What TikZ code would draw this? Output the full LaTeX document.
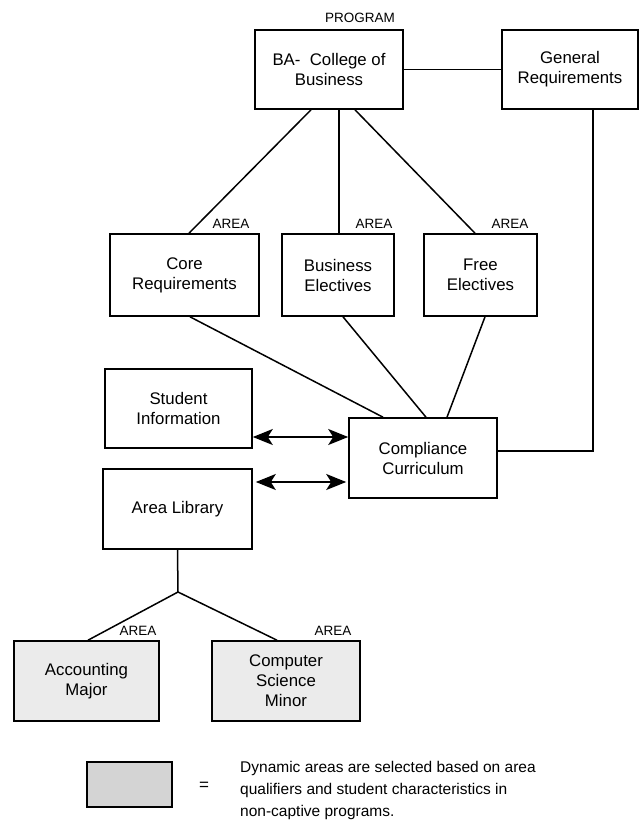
\documentclass[tikz,border=0pt]{standalone}
\usepackage{fontspec}
\setmainfont{Liberation Sans}
\usetikzlibrary{calc,arrows.meta}
\begin{document}
\begin{tikzpicture}[x=1pt,y=-1pt,
  >={Stealth[length=20pt,width=16pt,inset=5pt]},
  every node/.style={inner sep=0pt},
  box/.style={draw=black,line width=1.6pt,fill=white,align=center,
    font=\fontsize{16.8}{20}\selectfont},
  dynbox/.style={box,fill=black!8},
  tag/.style={font=\fontsize{13.5}{15}\selectfont},
  link/.style={draw=black,line width=1.5pt},
  twoway/.style={link,<->}
]
\useasboundingbox[fill=white] (0,0) rectangle (639,825);

% program level
\node[box,minimum width=148,minimum height=79] (ba) at (329,69.5) {BA-\ \ College of\\Business};
\node[box,minimum width=136,minimum height=79] (gen) at (570,69.5) {General\\Requirements};
\node[tag] (prog) at (360,18) {PROGRAM};

% areas
\node[box,minimum width=149,minimum height=82] (core) at (184.5,275) {Core\\Requirements};
\node[box,minimum width=112,minimum height=82] (bus) at (338,275) {Business\\Electives};
\node[box,minimum width=113,minimum height=82] (free) at (480.5,275) {Free\\Electives};
\node[tag] (acore) at (231,224) {AREA};
\node[tag] (abus) at (374,224) {AREA};
\node[tag] (afree) at (510,224) {AREA};

% student data, compliance and library
\node[box,minimum width=147,minimum height=79] (stu) at (178.5,408.5) {Student\\Information};
\node[box,minimum width=148,minimum height=80] (comp) at (423,458) {Compliance\\Curriculum};
\node[box,minimum width=149,minimum height=80] (lib) at (177.5,509) {Area Library};

% dynamic areas
\node[dynbox,minimum width=145,minimum height=80] (acc) at (86.5,681) {Accounting\\Major};
\node[dynbox,minimum width=148,minimum height=80] (cs) at (286,681) {Computer\\Science\\Minor};
\node[tag] (aacc) at (138,631) {AREA};
\node[tag] (acs) at (333,631) {AREA};

% legend
\node[draw=black,line width=1.6pt,fill=black!17,minimum width=85,minimum height=45] (key) at (129.5,784.5) {};
\node[font=\fontsize{17}{20}\selectfont] (eq) at (204,786) {=};
\node[anchor=north west,align=left,font=\fontsize{15.5}{22}\selectfont] (note) at (240,761)
  {Dynamic areas are selected based on area\\qualifiers and student characteristics in\\non-captive programs.};

% connectors
\draw[link] ($(ba.south)+(-18,0)$) -- ($(core.north)+(4.5,0)$);
\draw[link] ($(ba.south)+(10,0)$) -- ($(bus.north)+(1,0)$);
\draw[link] ($(ba.south)+(26,0)$) -- ($(free.north)+(-5.5,0)$);
\draw[link] (ba.east) -- (gen.west);
\draw[link] ($(gen.south)+(23,0)$) |- ($(comp.east)+(0,-7)$);
\draw[link] ($(core.south)+(5.5,0)$) -- ($(comp.north)+(-40,0)$);
\draw[link] ($(bus.south)+(5,0)$) -- ($(comp.north)+(3,0)$);
\draw[link] ($(free.south)+(4.5,0)$) -- ($(comp.north)+(24,0)$);
\draw[twoway] (stu.east |- 0,437) -- (comp.west |- 0,437);
\draw[twoway,shorten <=3pt,shorten >=2pt] (lib.east |- 0,482) -- (comp.west |- 0,482);
\coordinate (fork) at (178,592);
\draw[link] (lib.south) -- (fork);
\draw[link] (fork) -- ($(acc.north)+(1.5,0)$);
\draw[link] (fork) -- ($(cs.north)+(-9,0)$);
\end{tikzpicture}
\end{document}
